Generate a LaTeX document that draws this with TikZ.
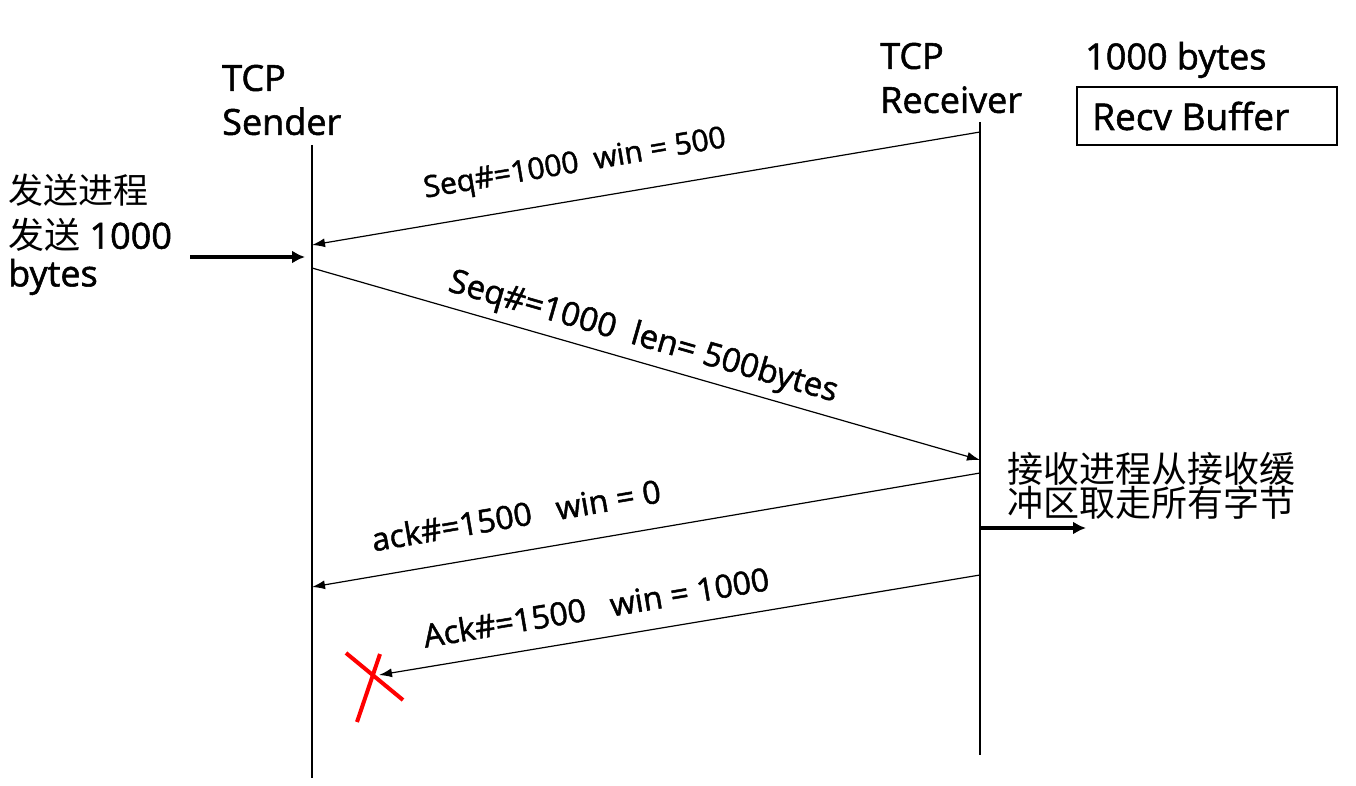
\documentclass[tikz,border=0pt]{standalone}
\usepackage{fontspec}
\setmainfont{Open Sans}[BoldFont={Open Sans}, BoldFeatures={FakeBold=1.5}]
\newfontfamily\cjk{Noto Sans CJK SC}
\usetikzlibrary{arrows.meta}
\tikzset{
  lifeline/.style={line width=1.2pt},
  msg/.style={line width=1.2pt,-{Latex[length=13pt,width=9pt]}},
  thickarrow/.style={line width=3.5pt,-{Latex[length=13pt,width=13pt]}},
  big/.style={font=\bfseries\fontsize{36}{44}\selectfont, inner sep=0pt, anchor=west, align=left},
  lbl/.style={font=\bfseries\fontsize{32}{32}\selectfont, inner sep=0pt},
  cn/.style={font=\cjk\fontsize{35}{32}\selectfont, inner sep=0pt, anchor=west, align=left},
  cross/.style={red, line width=4pt}
}
\begin{document}
\begin{tikzpicture}[x=1pt,y=-1pt]
\useasboundingbox (0,0) rectangle (1356,786);
% lifelines
\coordinate (stop) at (312,145);
\coordinate (sbot) at (312,778);
\coordinate (rtop) at (980,122);
\coordinate (rbot) at (980,755);
\draw[lifeline] (stop) -- (sbot);
\draw[lifeline] (rtop) -- (rbot);
% headers
\node[big] (sender) at (222,100) {TCP\\Sender};
\node[big] (receiver) at (880,78) {TCP\\Receiver};
\node[big] (bytes) at (1085,60) {1000 bytes};
\node[draw, line width=1.2pt, minimum width=260pt, minimum height=58pt, inner sep=0pt] (buf) at (1207,116) {};
\node[big, font=\bfseries\fontsize{37}{44}\selectfont] (buftext) at (1092,116) {Recv Buffer};
% left text
\node[cn] (l1) at (8,190) {发送进程};
\node[font=\bfseries\fontsize{36}{40}\selectfont, inner sep=0pt, anchor=west] (l2) at (8,235) {{\cjk\mdseries 发送} 1000};
\node[big] (l3) at (8,277) {bytes};
\coordinate (a0) at (190,257);
\coordinate (a1) at (305,257);
\draw[thickarrow] (a0) -- (a1);
% messages
\coordinate (r1) at (980,132); \coordinate (s1) at (312,245);
\draw[msg] (r1) -- (s1);
\node[lbl, font=\bfseries\fontsize{30}{32}\selectfont, rotate=9.6] (m1) at (575,165) {Seq\#=1000\ \ win = 500};
\coordinate (s2) at (312,268); \coordinate (r2) at (980,460);
\draw[msg] (s2) -- (r2);
\node[lbl, font=\bfseries\fontsize{33}{32}\selectfont, rotate=-16] (m2) at (643,338) {Seq\#=1000\ \ len= 500bytes};
\coordinate (r3) at (980,473); \coordinate (s3) at (312,587);
\draw[msg] (r3) -- (s3);
\node[lbl, rotate=9.7] (m3) at (516,515) {ack\#=1500\ \ \ win = 0};
\coordinate (r4) at (980,575); \coordinate (x4) at (379,675);
\draw[msg] (r4) -- (x4);
\node[lbl, rotate=9.5] (m4) at (596,607) {Ack\#=1500\ \ \ win = 1000};
% receiver process
\node[cn, font=\cjk\fontsize{36}{32}\selectfont] (c1) at (1007,486) {接收进程从接收缓\\冲区取走所有字节};
\coordinate (b0) at (980,528);
\coordinate (b1) at (1086,528);
\draw[thickarrow] (b0) -- (b1);
% red cross
\coordinate (xa) at (346,653); \coordinate (xb) at (403,700);
\coordinate (xc) at (380,654); \coordinate (xd) at (357,722);
\draw[cross] (xa) -- (xb);
\draw[cross] (xc) -- (xd);
\end{tikzpicture}
\end{document}
